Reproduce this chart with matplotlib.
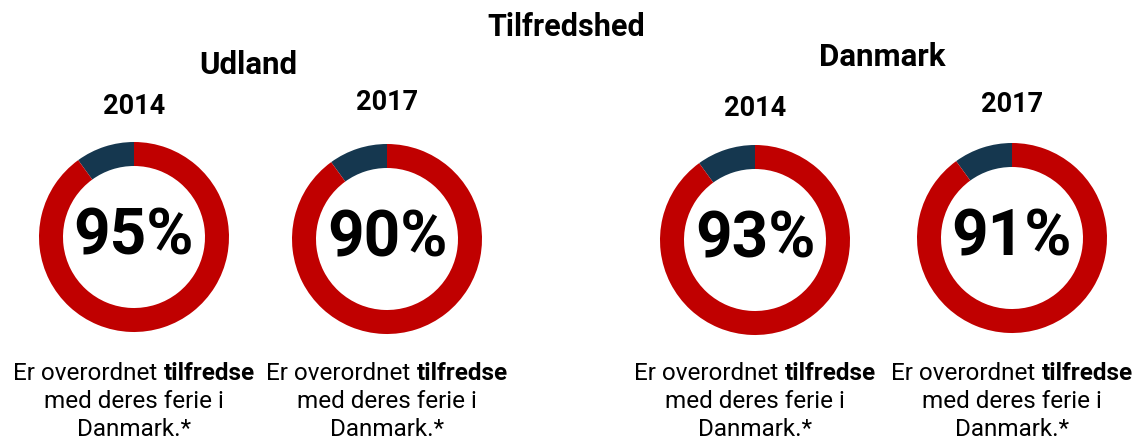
import matplotlib.pyplot as plt

# data
groups = ["Udland", "Danmark"]
years = ["2014", "2017", "2014", "2017"]
labels = [95, 90, 93, 91]            # printed percentages
drawn_share = [0.90, 0.90, 0.90, 0.90]  # red share as drawn in the rings
caption_plain = "Er overordnet "
caption_bold = "tilfredse"
caption_rest = ["med deres ferie i", "Danmark.*"]

W, H = 1137, 442
RED = "#c00000"
NAVY = "#15374f"
FONT = ["Roboto", "DejaVu Sans"]

fig = plt.figure(figsize=(W / 100, H / 100), dpi=100)
ax = fig.add_axes([0, 0, 1, 1])

# pixel centres of the rings and headings
centers = [(134, 237), (387, 239), (755, 240), (1012, 238)]
year_y = [106, 103, 108, 105]
R = 95

for (cx, cy), share, lab, yr, yy in zip(centers, drawn_share, labels, years, year_y):
    ax.pie([1 - share, share], colors=[NAVY, RED], startangle=90,
           center=(cx, H - cy), radius=R,
           wedgeprops=dict(width=24, linewidth=0))
    ax.text(cx, H - cy, f"{lab}%", ha="center", va="center",
            fontsize=46, fontweight="bold", family=FONT)
    ax.text(cx, H - yy, yr, ha="center", va="center",
            fontsize=19.5, fontweight="bold", family=FONT)

ax.set_xlim(0, W)
ax.set_ylim(0, H)
ax.set_aspect("equal")
ax.axis("off")

ax.text(566, H - 27, "Tilfredshed", ha="center", va="center",
        fontsize=22, fontweight="bold", family=FONT)
ax.text(248, H - 65, groups[0], ha="center", va="center",
        fontsize=22.5, fontweight="bold", family=FONT)
ax.text(882, H - 57, groups[1], ha="center", va="center",
        fontsize=22.5, fontweight="bold", family=FONT)

# captions: first line mixes regular and bold text
fig.canvas.draw()
renderer = fig.canvas.get_renderer()
for cx, _ in centers:
    t1 = ax.text(0, H - 373, caption_plain, ha="left", va="center",
                 fontsize=17.5, family=FONT)
    t2 = ax.text(0, H - 373, caption_bold, ha="left", va="center",
                 fontsize=17.5, fontweight="bold", family=FONT)
    w1 = t1.get_window_extent(renderer).width
    w2 = t2.get_window_extent(renderer).width
    x0 = cx - (w1 + w2) / 2
    t1.set_x(x0)
    t2.set_x(x0 + w1)
    for i, line in enumerate(caption_rest):
        ax.text(cx, H - 402 - 27 * i, line, ha="center", va="center",
                fontsize=17.5, family=FONT)

fig.savefig("out.png", dpi=100)
